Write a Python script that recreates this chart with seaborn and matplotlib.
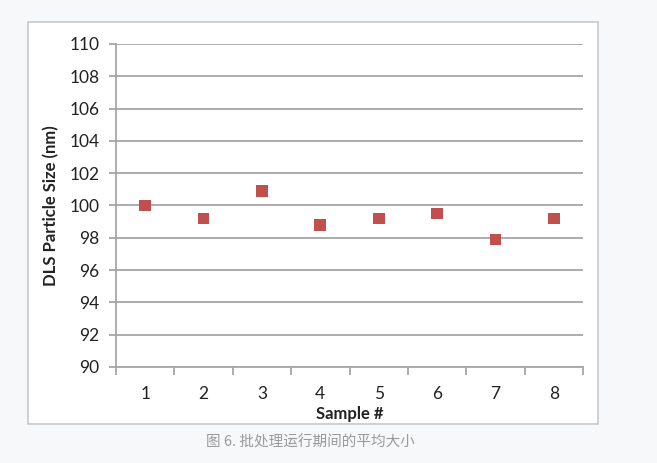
import numpy as np
import pandas as pd
import matplotlib
matplotlib.use("Agg")
import matplotlib.pyplot as plt
from matplotlib.patches import Rectangle
from matplotlib.ticker import FixedLocator
import seaborn as sns

# Data
samples = [1, 2, 3, 4, 5, 6, 7, 8]
sizes = [100.0, 99.2, 100.9, 98.8, 99.2, 99.5, 97.9, 99.2]
y_ticks = [90, 92, 94, 96, 98, 100, 102, 104, 106, 108, 110]
caption = "图 6. 批处理运行期间的平均大小"

df = pd.DataFrame({"Sample": samples, "Size": sizes})

sns.set_theme(style="white")
plt.rcParams['font.family'] = ['Lato', 'DejaVu Sans']

fig = plt.figure(figsize=(6.57, 4.63), dpi=100)
fig.patch.set_facecolor("#f7f8fa")

# white chart panel with a thin gray border (drawn behind the axes)
panel = Rectangle((28 / 657, 1 - 424 / 463), 570 / 657, 402 / 463,
                  transform=fig.transFigure, facecolor="white",
                  edgecolor="#c8c8c8", linewidth=1.2, zorder=-5)
fig.patches.append(panel)

ax = fig.add_axes([116 / 657, 1 - 367 / 463, 467 / 657, 323 / 463])
ax.set_facecolor("white")

sns.scatterplot(data=df, x="Sample", y="Size", marker="s", s=72,
                color="#c0504d", edgecolor="none", ax=ax, zorder=3)

ax.set_xlim(0.5, 8.5)
ax.set_ylim(90, 110)
ax.set_yticks(y_ticks)
ax.set_xticks(samples)
ax.xaxis.set_minor_locator(FixedLocator(np.arange(0.5, 9.0, 1.0)))

ax.grid(axis="y", color="#a6a6a6", linewidth=1.3)
ax.set_axisbelow(True)
for side in ["top", "right"]:
    ax.spines[side].set_visible(False)
for side in ["left", "bottom"]:
    ax.spines[side].set_color("#a6a6a6")
    ax.spines[side].set_linewidth(1.3)

ax.tick_params(axis="y", which="major", left=True, length=5, width=1.3,
               color="#a6a6a6", labelsize=12.5, pad=7, labelcolor="#222222")
ax.tick_params(axis="x", which="major", bottom=False, labelsize=12.5, pad=7.5,
               labelcolor="#222222")
ax.tick_params(axis="x", which="minor", bottom=True, length=6, width=1.3,
               color="#a6a6a6")

ax.set_xlabel("Sample #", fontsize=12, fontweight="bold", labelpad=3,
              color="#222222")
ax.set_ylabel("DLS Particle Size (nm)", fontsize=12, fontweight="bold",
              labelpad=7, color="#222222")

fig.text(310 / 657, 1 - 442 / 463, caption, ha="center", va="center",
         fontsize=10.5, color="#9a9a9a",
         family=['Noto Sans CJK SC', 'DejaVu Sans'])

fig.savefig("out.png", dpi=100, facecolor=fig.get_facecolor())
